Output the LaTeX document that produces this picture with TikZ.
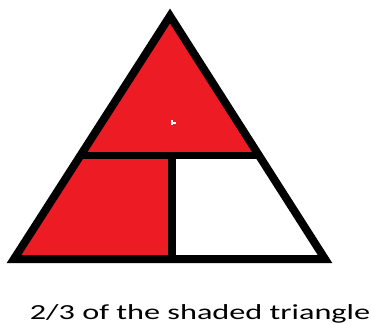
\documentclass[tikz,border=0pt]{standalone}
\usepackage{fontspec}
\setmainfont{Carlito}
\usetikzlibrary{calc}
\definecolor{paintred}{RGB}{237,28,36}

\begin{document}
\begin{tikzpicture}[x=1pt,y=-1pt]
\useasboundingbox (0,0) rectangle (371,324);
\coordinate (A) at (170,16); \coordinate (L) at (14,259); \coordinate (R) at (325,259);
\coordinate (P) at ($(A)!0.572!(L)$); \coordinate (Q) at ($(A)!0.572!(R)$);
\coordinate (M) at (172,155); \coordinate (N) at (172,259);
\fill[paintred] (A)--(P)--(Q)--cycle;
\fill[paintred] (P)--(L)--(N)--(M)--cycle;
\draw[white,line width=1.5pt] (172,120)--(172,125) (172,123)--(176,123);
\draw[line width=8pt,line join=miter] (A)--(L)--(R)--cycle;
\draw[line width=7pt] (P)--(Q);
\draw[line width=8pt] (M)--(N);
\node[anchor=base,inner sep=0pt,xscale=1.5,font=\fontsize{21.5}{24}\selectfont] (cap) at (200,319) {2/3 of the shaded triangle};
\end{tikzpicture}
\end{document}
